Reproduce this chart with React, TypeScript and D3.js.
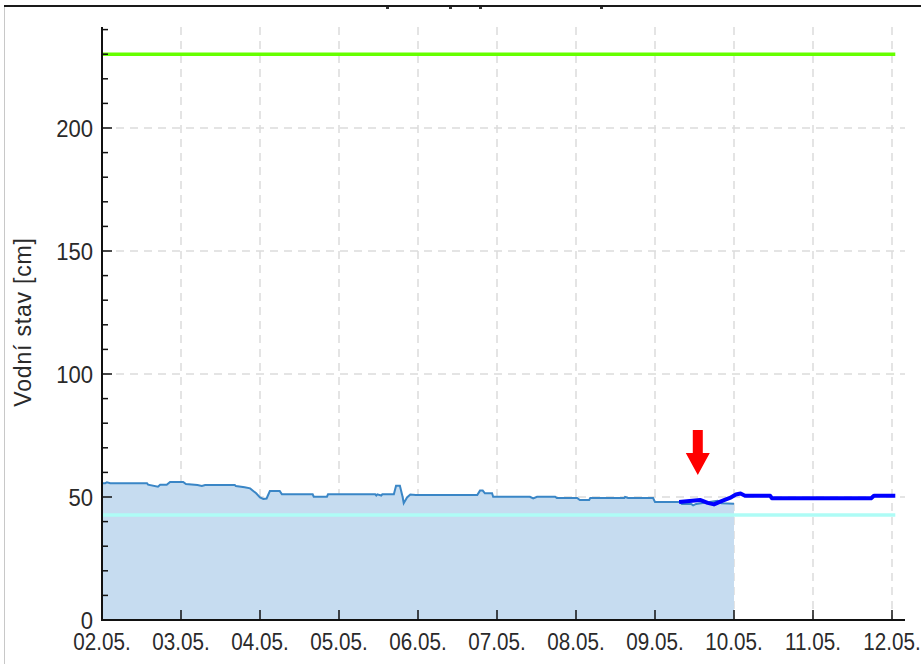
import React, { useEffect, useRef } from 'react';
import * as d3 from 'd3';

// measured water level (light blue, with area)
const measuredTimes = [
  '02.05. 00:00', '02.05. 01:00', '02.05. 01:30', '02.05. 02:30', '02.05. 13:40', '02.05. 14:00',
  '02.05. 17:00', '02.05. 17:40', '02.05. 19:40', '02.05. 20:40', '03.05. 00:40', '03.05. 01:30',
  '03.05. 05:00', '03.05. 06:20', '03.05. 07:20', '03.05. 16:20', '03.05. 16:40', '03.05. 19:20',
  '03.05. 21:00', '03.05. 22:50', '04.05. 00:00', '04.05. 01:00', '04.05. 02:00', '04.05. 03:00',
  '04.05. 06:00', '04.05. 06:40', '04.05. 16:00', '04.05. 16:20', '04.05. 20:20', '04.05. 20:40',
  '05.05. 11:00', '05.05. 11:20', '05.05. 11:40', '05.05. 12:50', '05.05. 13:10', '05.05. 16:40',
  '05.05. 17:20', '05.05. 18:30', '05.05. 19:20', '05.05. 19:40', '05.05. 20:40', '05.05. 21:40',
  '05.05. 23:20', '06.05. 18:00', '06.05. 18:50', '06.05. 19:40', '06.05. 20:20', '06.05. 22:30',
  '06.05. 22:50', '07.05. 10:00', '07.05. 11:00', '07.05. 12:10', '07.05. 17:40', '07.05. 18:10',
  '08.05. 00:20', '08.05. 01:10', '08.05. 04:00', '08.05. 04:20', '08.05. 14:40', '08.05. 14:55',
  '08.05. 15:50', '08.05. 23:25', '09.05. 00:00', '09.05. 07:35', '09.05. 08:10', '09.05. 11:00',
  '09.05. 11:35', '09.05. 12:30', '09.05. 19:00', '09.05. 20:10', '10.05. 00:00'
];
const measuredValues = [
  55.6, 55.6, 56.0, 55.6, 55.6, 55.0,
  54.2, 55.0, 55.0, 56.1, 56.1, 55.3,
  54.9, 54.5, 54.9, 54.9, 54.5, 54.0,
  53.5, 51.5, 49.8, 49.2, 49.4, 52.4,
  52.4, 51.1, 51.1, 50.1, 50.1, 51.1,
  51.1, 50.6, 51.1, 50.6, 51.1, 51.1,
  54.6, 54.6, 50.0, 47.5, 49.8, 51.0,
  50.8, 50.8, 52.6, 52.6, 51.5, 51.5,
  50.1, 50.1, 49.4, 50.1, 50.1, 49.6,
  49.6, 48.8, 48.8, 49.6, 49.6, 50.0,
  49.6, 49.6, 48.0, 48.0, 47.2, 47.2,
  46.6, 47.2, 48.5, 47.5, 47.3
];

// forecast (dark blue)
const forecastTimes = [
  '09.05. 07:20', '09.05. 13:40', '09.05. 16:00', '09.05. 17:55', '09.05. 19:40', '09.05. 21:10',
  '09.05. 22:45', '10.05. 00:35', '10.05. 02:00', '10.05. 03:20', '10.05. 11:00', '10.05. 11:30',
  '11.05. 17:40', '11.05. 18:30', '12.05. 01:00'
];
const forecastValues = [
  48.0, 48.8, 47.6, 47.0, 48.0, 48.8,
  49.6, 51.0, 51.4, 50.5, 50.5, 49.5,
  49.5, 50.5, 50.5
];

// flood levels
const levelGreen = 230;
const levelCyan = 42.7;

const dayLabels = ['02.05.', '03.05.', '04.05.', '05.05.', '06.05.', '07.05.', '08.05.', '09.05.', '10.05.', '11.05.', '12.05.'];
const yTicks = [0, 50, 100, 150, 200];
const arrowTime = '09.05. 13:00';

const parse = d3.utcParse('%d.%m. %H:%M');

export default function App() {
  const svgRef = useRef<SVGSVGElement>(null);
  const width = 921;
  const height = 664;

  useEffect(() => {
    if (!svgRef.current) return;
    const svg = d3.select(svgRef.current);
    svg.selectAll('*').remove();

    const left = 102, bottom = 620;
    const start = parse('02.05. 00:00') as Date;
    const end = parse('12.05. 00:00') as Date;
    const lineEnd = parse('12.05. 01:00') as Date;

    const x = d3.scaleUtc().domain([start, end]).range([left, 892]);
    const y = d3.scaleLinear().domain([0, 240]).range([bottom, bottom - 240 * 2.46]);

    const font = '"Liberation Sans", Arial, sans-serif';

    svg.append('rect').attr('width', width).attr('height', height).attr('fill', '#fff');

    // frame
    svg.append('line').attr('x1', 4.5).attr('x2', 4.5).attr('y1', 6).attr('y2', height)
      .attr('stroke', '#c8c8c8').attr('stroke-width', 1);
    svg.append('line').attr('x1', 4).attr('x2', width).attr('y1', 6).attr('y2', 6)
      .attr('stroke', '#1a1a1a').attr('stroke-width', 2);
    // remnants of the clipped title
    [386, 449, 479, 600].forEach(px => {
      svg.append('rect').attr('x', px).attr('y', 7).attr('width', 3).attr('height', 2).attr('fill', '#333');
    });

    const days = dayLabels.map(d => parse(d + ' 00:00') as Date);

    // grid
    const grid = svg.append('g').attr('stroke', '#dcdcdc').attr('stroke-width', 1.5)
      .attr('stroke-dasharray', '8,6');
    days.slice(1).forEach(d => {
      grid.append('line').attr('x1', x(d)).attr('x2', x(d)).attr('y1', 27).attr('y2', bottom);
    });
    yTicks.slice(1).forEach(v => {
      grid.append('line').attr('x1', left).attr('x2', 905).attr('y1', y(v)).attr('y2', y(v));
    });

    const mData = measuredTimes.map((t, i) => ({ t: parse(t) as Date, v: measuredValues[i] }));
    const fData = forecastTimes.map((t, i) => ({ t: parse(t) as Date, v: forecastValues[i] }));

    const area = d3.area<{ t: Date; v: number }>()
      .x(d => x(d.t)).y0(y(0)).y1(d => y(d.v)).curve(d3.curveLinear);
    svg.append('path').datum(mData).attr('fill', '#c6dcf0').attr('d', area);

    // level lines
    svg.append('line').attr('x1', left).attr('x2', x(lineEnd)).attr('y1', y(levelCyan)).attr('y2', y(levelCyan))
      .attr('stroke', '#aefcf6').attr('stroke-width', 3.5);
    svg.append('line').attr('x1', left).attr('x2', x(lineEnd)).attr('y1', y(levelGreen)).attr('y2', y(levelGreen))
      .attr('stroke', '#66ff00').attr('stroke-width', 3.5);

    const line = d3.line<{ t: Date; v: number }>().x(d => x(d.t)).y(d => y(d.v)).curve(d3.curveLinear);
    svg.append('path').datum(mData).attr('fill', 'none').attr('stroke', '#3a86c6')
      .attr('stroke-width', 2).attr('d', line);
    svg.append('path').datum(fData).attr('fill', 'none').attr('stroke', '#0000ff')
      .attr('stroke-width', 4).attr('stroke-linejoin', 'round').attr('d', line);

    // red arrow
    const ax = x(parse(arrowTime) as Date);
    svg.append('path')
      .attr('d', `M${ax - 5},430 H${ax + 5} V453 H${ax + 12} L${ax},475 L${ax - 12},453 H${ax - 5} Z`)
      .attr('fill', '#ff0000');

    // axes
    const axisG = svg.append('g').attr('stroke', '#111').attr('stroke-width', 2);
    axisG.append('line').attr('x1', left).attr('x2', left).attr('y1', 27).attr('y2', bottom + 1);
    axisG.append('line').attr('x1', left - 1).attr('x2', 905).attr('y1', bottom).attr('y2', bottom);
    d3.range(10, 241, 10).forEach(v => {
      const major = v % 50 === 0;
      axisG.append('line').attr('x1', left).attr('x2', left + (major ? 10 : 6))
        .attr('y1', y(v)).attr('y2', y(v)).attr('stroke-width', 1.5);
    });
    days.slice(1).forEach(d => {
      axisG.append('line').attr('x1', x(d)).attr('x2', x(d)).attr('y1', bottom).attr('y2', bottom - 10)
        .attr('stroke-width', 1.5);
    });

    svg.append('g').selectAll('text').data(yTicks).join('text')
      .attr('transform', v => `translate(93,${y(v)}) scale(0.92,1)`)
      .attr('dy', '0.36em').attr('text-anchor', 'end')
      .attr('font-family', font).attr('font-size', 24).attr('fill', '#2a2a2a')
      .text(v => String(v));

    svg.append('g').selectAll('text').data(days).join('text')
      .attr('transform', d => `translate(${x(d)},650) scale(0.86,1)`)
      .attr('text-anchor', 'middle')
      .attr('font-family', font).attr('font-size', 24).attr('fill', '#2a2a2a')
      .text((d, i) => dayLabels[i]);

    svg.append('text')
      .attr('transform', 'translate(31,322) rotate(-90)')
      .attr('text-anchor', 'middle')
      .attr('font-family', font).attr('font-size', 23).attr('fill', '#2a2a2a')
      .attr('letter-spacing', 0.8)
      .text('Vodní stav [cm]');
  }, []);

  return (
    <svg ref={svgRef} width={width} height={height}
      style={{ position: 'absolute', left: 0, top: 0, display: 'block' }} />
  );
}
